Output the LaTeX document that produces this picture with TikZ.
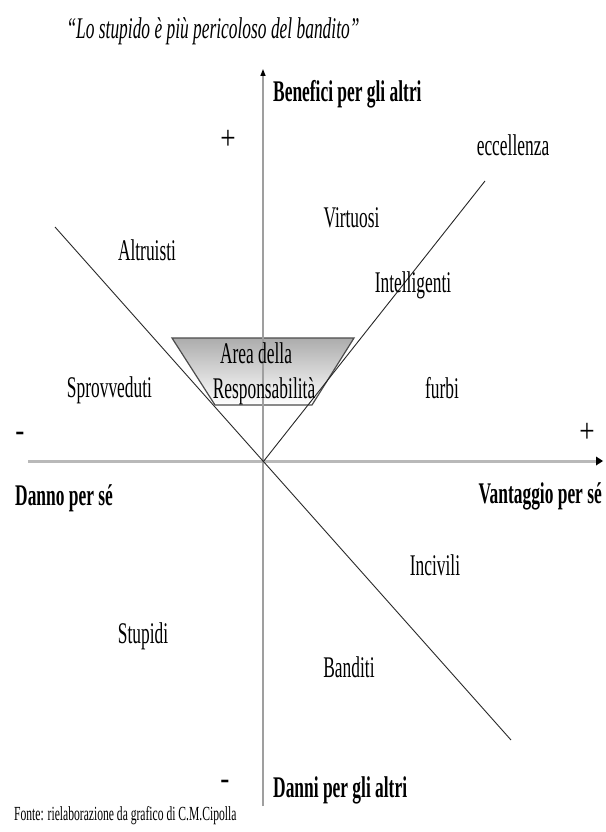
\documentclass[tikz,border=0pt]{standalone}
\usepackage{fontspec}
\usepackage{graphicx}
\setmainfont{Liberation Serif}
\usetikzlibrary{arrows.meta}
\newcommand\sq[1]{\scalebox{0.58}[1]{#1}}
\newcommand\sgn[1]{\scalebox{0.8}[1]{#1}}
\begin{document}
\begin{tikzpicture}[x=1pt,y=-1pt,
  lab/.style={inner sep=0pt,anchor=base,font=\fontsize{30}{37}\selectfont},
  blab/.style={lab,font=\fontsize{30}{37}\selectfont\bfseries},
  sign/.style={inner sep=0pt,font=\fontsize{34}{36}\selectfont},
  axisline/.style={draw=gray!75,line width=1.5pt},
  diag/.style={draw=black!85,line width=0.9pt}]
\useasboundingbox (0,0) rectangle (605,832);
% coordinates
\coordinate (O) at (263,462);
\coordinate (xl) at (28,461);
\coordinate (xr) at (603,461);
\coordinate (yt) at (263,69);
\coordinate (yb) at (263,806);
\coordinate (d1a) at (55,227);
\coordinate (d1b) at (511,740);
\coordinate (d2b) at (485,181);
\coordinate (t1) at (172,338);
\coordinate (t2) at (354,338);
\coordinate (t3) at (312,405);
\coordinate (t4) at (215,405);
% trapezoid
\draw[draw=black!70,line width=1.2pt,top color=gray!65,bottom color=white] (t1) -- (t2) -- (t3) -- (t4) -- cycle;
% axes
\draw[draw=gray!55,line width=3pt] (xl) -- (598,461);
\fill[black] (xr) -- (596,456.5) -- (596,465.5) -- cycle;
\draw[axisline,-{Triangle[length=7pt,width=5pt,black]}] (yb) -- (yt);
% diagonals
\draw[diag] (d1a) -- (d1b);
\draw[diag] (O) -- (d2b);
% texts
\node[lab,font=\fontsize{30}{37}\selectfont\itshape,anchor=base] (title) at (213,39) {\sq{“Lo stupido è più pericoloso del bandito”}};
\node[blab,anchor=base west] (ben) at (273,102) {\sq{Benefici per gli altri}};
\node[blab,anchor=base west] (dan) at (273,797) {\sq{Danni per gli altri}};
\node[blab,anchor=base west] (dps) at (15,505) {\sq{Danno per sé}};
\node[blab,anchor=base east] (vps) at (602,503) {\sq{Vantaggio per sé}};
\node[sign] (pt) at (228,140) {\sgn{+}};
\node[sign] (pr) at (587,433) {\sgn{+}};
\node[sign] (ml) at (20,437) {\sgn{-}};
\node[sign] (mb) at (225,785) {\sgn{-}};
\node[lab] (ecc) at (513,155) {\sq{eccellenza}};
\node[lab] (vir) at (351.5,227) {\sq{Virtuosi}};
\node[lab] (int) at (413,292) {\sq{Intelligenti}};
\node[lab] (alt) at (147,260) {\sq{Altruisti}};
\node[lab] (spr) at (109.5,397) {\sq{Sprovveduti}};
\node[lab] (fur) at (442,398) {\sq{furbi}};
\node[lab] (inc) at (435,575) {\sq{Incivili}};
\node[lab] (stu) at (143,643) {\sq{Stupidi}};
\node[lab] (ban) at (349,677) {\sq{Banditi}};
\node[lab] (area1) at (256,363) {\sq{Area della}};
\node[lab] (area2) at (264,398) {\sq{Responsabilità}};
\node[lab,anchor=base west,font=\fontsize{20}{22}\selectfont] (src) at (14,820) {\sq{Fonte: rielaborazione da grafico di C.M.Cipolla}};
\end{tikzpicture}
\end{document}
